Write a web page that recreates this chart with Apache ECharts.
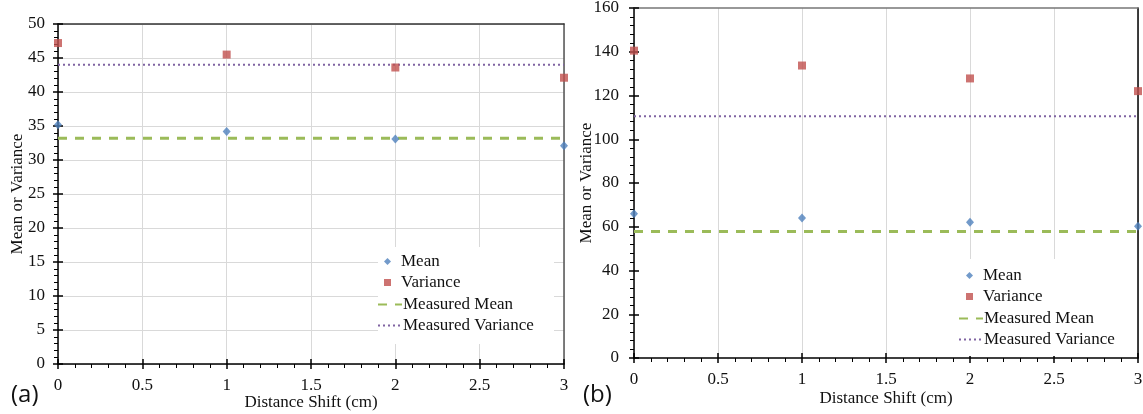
<!DOCTYPE html>
<html>
<head>
<meta charset="utf-8">
<script src="https://cdn.jsdelivr.net/npm/echarts@6/dist/echarts.min.js"></script>
<style>
html,body{margin:0;padding:0;background:#fff;}
#c{width:1143px;height:414px;}
</style>
</head>
<body>
<div id="c"></div>
<script>
// ---- data ----
const shiftsCm = [0, 1, 2, 3];
const meanA = [35.2, 34.2, 33.1, 32.1];
const varianceA = [47.2, 45.5, 43.6, 42.1];
const measuredMeanA = 33.2;
const measuredVarianceA = 44.0;
const meanB = [66.0, 64.0, 62.1, 60.2];
const varianceB = [140.5, 133.7, 127.8, 122.0];
const measuredMeanB = 57.8;
const measuredVarianceB = 110.5;
const xName = 'Distance Shift (cm)';
const yName = 'Mean or Variance';
const pointNames = ['Mean', 'Variance'];
const lineNames = ['Measured Mean', 'Measured Variance'];
const panelLabels = ['(a)', '(b)'];

const C_MEAN = '#4F81BD', C_VAR = '#C0504D', C_MMEAN = '#9BBB59', C_MVAR = '#8064A2';
const SERIF = '"Liberation Serif", "DejaVu Serif", serif';
const TXT = '#111';

function pts(vals){ return shiftsCm.map((x,i)=>[x, vals[i]]); }
function hline(v){ return [[shiftsCm[0], v],[shiftsCm[shiftsCm.length-1], v]]; }

const chart = echarts.init(document.getElementById('c'), null, {renderer:'canvas'});

function axesFor(g, yMax, yInt, hGrid, yNameGap, xNameGap, yLabelMargin, borderTopColor, borderRightColor){
  const xs = [
    { type:'value', gridIndex:g, min:0, max:3, interval:0.5, position:'bottom',
      name:xName, nameLocation:'middle', nameGap:xNameGap, nameMoveOverlap:false,
      nameTextStyle:{fontFamily:SERIF, fontSize:17, color:TXT},
      axisLine:{show:true, onZero:false, lineStyle:{color:'#000', width:1.5}},
      axisTick:{show:true, inside:false, length:5, lineStyle:{color:'#000', width:1.5}},
      minorTick:{show:true, splitNumber:5, length:4, lineStyle:{color:'#000', width:1}},
      axisLabel:{show:true, fontFamily:SERIF, fontSize:17, color:TXT, margin:13},
      splitLine:{show:true, lineStyle:{color:'#d9d9d9', width:1}} },
    { type:'value', gridIndex:g, min:0, max:3, interval:0.5, position:'bottom',
      axisLine:{show:false, onZero:false}, axisTick:{show:true, inside:true, length:5, lineStyle:{color:'#000', width:1.5}},
      axisLabel:{show:false}, splitLine:{show:false} },
    { type:'value', gridIndex:g, min:0, max:3, interval:0.5, position:'top',
      axisLine:{show:true, onZero:false, lineStyle:{color:borderTopColor, width:1.5}}, axisTick:{show:false},
      axisLabel:{show:false}, splitLine:{show:false} }
  ];
  const ys = [
    { type:'value', gridIndex:g, min:0, max:yMax, interval:yInt, position:'left',
      name:yName, nameLocation:'middle', nameGap:yNameGap, nameRotate:90, nameMoveOverlap:false,
      nameTextStyle:{fontFamily:SERIF, fontSize:17, color:TXT},
      axisLine:{show:true, onZero:false, lineStyle:{color:'#000', width:1.5}},
      axisTick:{show:true, inside:false, length:5, lineStyle:{color:'#000', width:1.5}},
      minorTick:{show:true, splitNumber:5, length:4, lineStyle:{color:'#000', width:1}},
      axisLabel:{show:true, fontFamily:SERIF, fontSize:17, color:TXT, margin:yLabelMargin},
      splitLine:{show:hGrid, lineStyle:{color:'#d9d9d9', width:1}} },
    { type:'value', gridIndex:g, min:0, max:yMax, interval:yInt, position:'left',
      axisLine:{show:false, onZero:false}, axisTick:{show:true, inside:true, length:5, lineStyle:{color:'#000', width:1.5}},
      axisLabel:{show:false}, splitLine:{show:false} },
    { type:'value', gridIndex:g, min:0, max:yMax, interval:yInt, position:'right',
      axisLine:{show:true, onZero:false, lineStyle:{color:borderRightColor, width:1.5}}, axisTick:{show:false},
      axisLabel:{show:false}, splitLine:{show:false} }
  ];
  return {xs, ys};
}

const a = axesFor(0, 50, 5, true, 32, 30, 13, '#333', '#555');
const b = axesFor(1, 160, 20, false, 39, 32, 15, '#777', '#000');

function seriesFor(g, mean, variance, mm, mv){
  const xi = g*3, yi = g*3;
  return [
    { name:'Mean', type:'scatter', xAxisIndex:xi, yAxisIndex:yi, data:pts(mean),
      symbol:'diamond', symbolSize:[8,9], itemStyle:{color:C_MEAN}, z:5 },
    { name:'Variance', type:'scatter', xAxisIndex:xi, yAxisIndex:yi, data:pts(variance),
      symbol:'rect', symbolSize:8, itemStyle:{color:C_VAR}, z:5 },
    { name:'Measured Mean', type:'line', xAxisIndex:xi, yAxisIndex:yi, data:hline(mm),
      symbol:'none', showSymbol:false, lineStyle:{color:C_MMEAN, width:3, type:[9,8]}, itemStyle:{color:C_MMEAN}, z:3 },
    { name:'Measured Variance', type:'line', xAxisIndex:xi, yAxisIndex:yi, data:hline(mv),
      symbol:'none', showSymbol:false, lineStyle:{color:C_MVAR, width:2, type:[2,3]}, itemStyle:{color:C_MVAR}, z:3 }
  ];
}

// legend for the point series (small symbols)
function pointLegend(left, top){
  return {
    orient:'vertical', left:left, top:top, padding:0,
    itemWidth:7, itemHeight:7, itemGap:4, symbolKeepAspect:true,
    textStyle:{fontFamily:SERIF, fontSize:17, color:TXT, padding:[0,0,0,5]},
    data: pointNames.map(n=>({name:n, icon: n==='Mean' ? 'diamond' : 'rect'})),
    selectedMode:false, z:6
  };
}
// legend for the line series
function lineLegend(left, top){
  return {
    orient:'vertical', left:left, top:top, padding:0,
    itemWidth:24, itemHeight:7, itemGap:4,
    textStyle:{fontFamily:SERIF, fontSize:17, color:TXT, padding:[0,0,0,-4]},
    data: lineNames.map(n=>({name:n, itemStyle:{opacity:0}})),
    selectedMode:false, z:6
  };
}

const option = {
  animation:false,
  backgroundColor:'#fff',
  textStyle:{fontFamily:SERIF, fontSize:16, color:TXT},
  grid:[
    {left:58, top:24, width:506, height:340, containLabel:false, outerBoundsMode:'none'},
    {left:634, top:8, width:504, height:350, containLabel:false, outerBoundsMode:'none'}
  ],
  xAxis:[...a.xs, ...b.xs],
  yAxis:[...a.ys, ...b.ys],
  legend:[
    pointLegend(384, 253), lineLegend(377, 296),
    pointLegend(966, 267), lineLegend(958, 310)
  ],
  series:[
    ...seriesFor(0, meanA, varianceA, measuredMeanA, measuredVarianceA),
    ...seriesFor(1, meanB, varianceB, measuredMeanB, measuredVarianceB)
  ],
  graphic:[
    {type:'rect', left:378, top:247, shape:{width:176, height:97}, style:{fill:'#fff'}, z:4},
    {type:'rect', left:955, top:259, shape:{width:178, height:97}, style:{fill:'#fff'}, z:4},
    {type:'text', left:11, top:383, style:{text:panelLabels[0], font:'24px "Open Sans", "Liberation Sans", sans-serif', fill:TXT}},
    {type:'text', left:583, top:383, style:{text:panelLabels[1], font:'24px "Open Sans", "Liberation Sans", sans-serif', fill:TXT}}
  ]
};
chart.setOption(option);
</script>
</body>
</html>
